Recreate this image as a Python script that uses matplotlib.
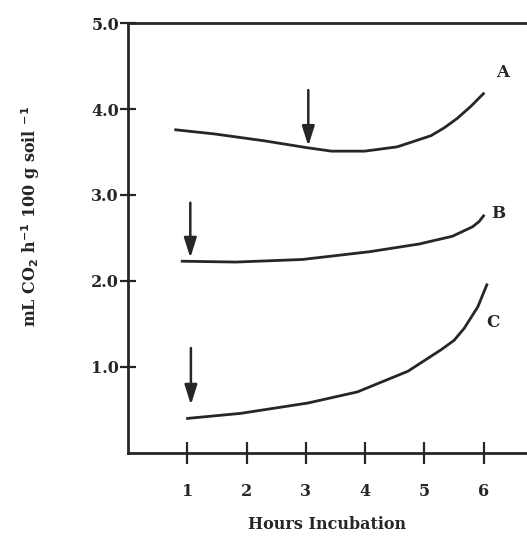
import matplotlib
matplotlib.use("Agg")
import matplotlib.pyplot as plt

# values
hours_a = [0.78, 1.46, 2.30, 3.02, 3.43, 3.99, 4.54, 5.11, 5.33, 5.55, 5.78, 6.01]
co2_a = [3.76, 3.71, 3.63, 3.55, 3.51, 3.51, 3.56, 3.69, 3.78, 3.89, 4.03, 4.19]

hours_b = [0.89, 1.82, 2.94, 4.07, 4.91, 5.47, 5.81, 5.92, 6.01]
co2_b = [2.23, 2.22, 2.25, 2.34, 2.43, 2.52, 2.63, 2.69, 2.77]

hours_c = [0.98, 1.90, 3.03, 3.87, 4.72, 5.28, 5.50, 5.67, 5.90, 6.06]
co2_c = [0.40, 0.46, 0.58, 0.71, 0.95, 1.20, 1.31, 1.45, 1.70, 1.97]

# arrows: (x, top, tip)
arrows = [(3.04, 4.22, 3.57), (1.05, 2.91, 2.27), (1.06, 1.22, 0.56)]

# curve labels
curve_names = ["A", "B", "C"]
label_x = [6.32, 6.24, 6.16]
label_y = [4.42, 2.79, 1.52]

y_ticks = [1.0, 2.0, 3.0, 4.0, 5.0]
x_ticks = [1, 2, 3, 4, 5, 6]

plt.rcParams['font.family'] = ['DejaVu Serif']
plt.rcParams['font.weight'] = 'bold'
ink = '#262626'

fig = plt.figure(figsize=(5.27, 5.36), dpi=100)
ax = fig.add_axes([0.243, 0.155, 0.7875, 0.802])

for xs, ys in [(hours_a, co2_a), (hours_b, co2_b), (hours_c, co2_c)]:
    ax.plot(xs, ys, color=ink, lw=2.0, solid_capstyle='butt',
            solid_joinstyle='round')

for x, top, tip in arrows:
    ax.annotate('', xy=(x, tip), xytext=(x, top),
                arrowprops=dict(arrowstyle='-|>,head_length=1.2,head_width=0.38',
                                color=ink, lw=1.8, shrinkA=0, shrinkB=0))

for name, lx, ly in zip(curve_names, label_x, label_y):
    ax.text(lx, ly, name, fontsize=12, fontweight='bold', color=ink,
            ha='center', va='center')

ax.set_xlim(0, 7)
ax.set_ylim(0, 5)
ax.set_xticks(x_ticks)
ax.set_xticklabels([str(t) for t in x_ticks])
ax.set_yticks(y_ticks)
ax.set_yticklabels([f"{t:.1f}" for t in y_ticks])

for side in ['left', 'bottom', 'top']:
    ax.spines[side].set_linewidth(2.0)
    ax.spines[side].set_color(ink)
ax.spines['right'].set_visible(False)

ax.tick_params(axis='y', direction='inout', length=11, width=1.6,
               color=ink, labelsize=11.5, labelcolor=ink, pad=1)
ax.tick_params(axis='x', direction='inout', length=16, width=1.6,
               color=ink, labelsize=11.5, labelcolor=ink, pad=14)

ax.set_xlabel('Hours Incubation', fontsize=11.5, fontweight='bold', color=ink)
ax.xaxis.set_label_coords(0.48, -0.146)
ax.set_ylabel(r'mL CO$_\mathbf{2}$ h$^\mathbf{-1}$ 100 g soil $^\mathbf{-1}$',
              fontsize=11.5, fontweight='bold', color=ink)
ax.yaxis.set_label_coords(-0.207, 0.55)

fig.savefig('out.png', dpi=100)
